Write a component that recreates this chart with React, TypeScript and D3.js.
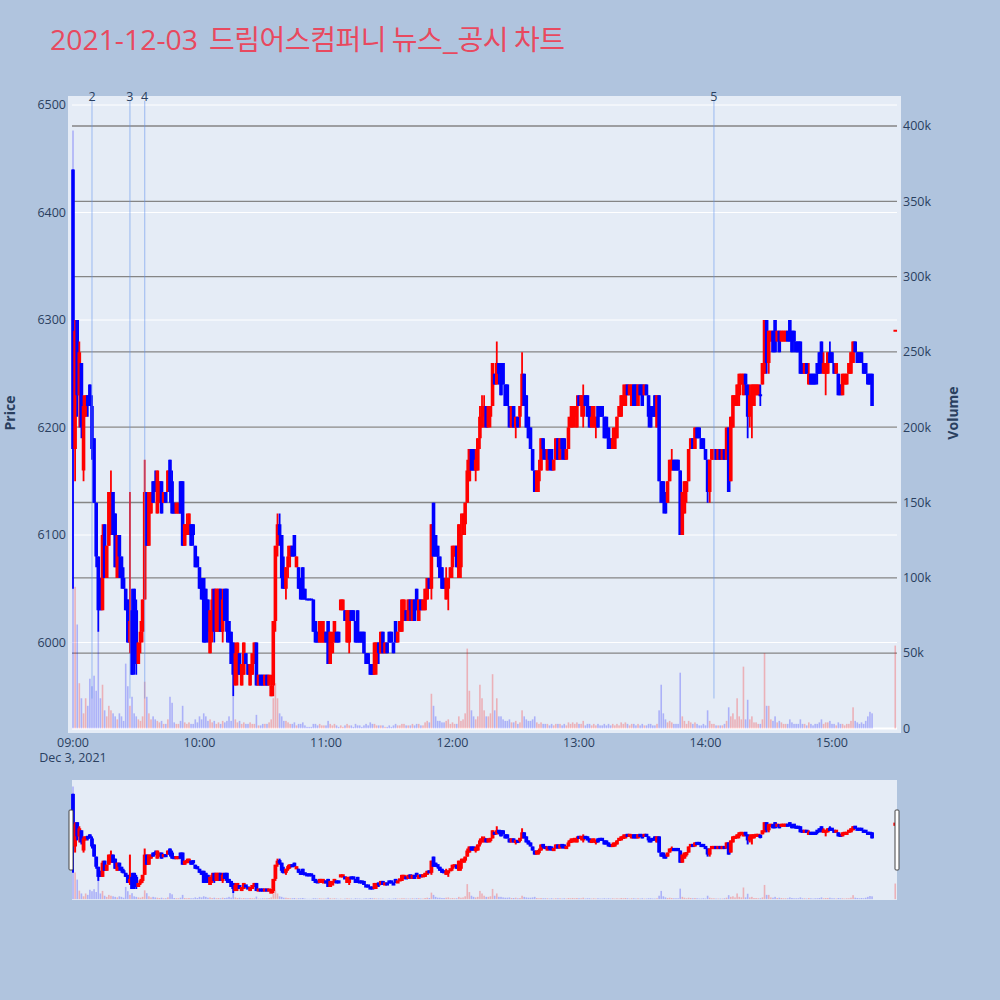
import { useEffect, useRef } from 'react';
import * as d3 from 'd3';

const chartDate = '2021-12-03';
const titleDate = '2021-12-03';
const titleText = '드림어스컴퍼니 뉴스_공시 차트';

// one candle per minute from 09:00 (continuous session), KRW
const sessionStart = '09:00';
const openPrices = [
  6440, 6180, 6300, 6230, 6260, 6160, 6210, 6230, 6240, 6220,
  6190, 6130, 6080, 6060, 6030, 6110, 6060, 6090, 6100, 6140,
  6120, 6060, 6100, 6080, 6060, 6050, 6040, 6000, 6030, 6050,
  6030, 5980, 6000, 6010, 6040, 6140, 6090, 6120, 6150, 6150,
  6120, 6130, 6150, 6130, 6140, 6140, 6170, 6150, 6130, 6120,
  6120, 6150, 6150, 6090, 6100, 6100, 6110, 6110, 6090, 6080,
  6070, 6060, 6060, 6050, 6040, 5990, 6010, 6050, 6010, 6010,
  6050, 6010, 6050, 6050, 6020, 6010, 6000, 5960, 5970, 5990,
  5960, 5970, 5990, 5980, 5960, 5970, 5980, 6000, 5960, 5970,
  5970, 5960, 5970, 5960, 5950, 5960, 6020, 6090, 6110, 6100,
  6060, 6050, 6070, 6080, 6090, 6100, 6070, 6070, 6060, 6070,
  6050, 6040, 6040, 6040, 6040, 6020, 6010, 6000, 6000, 6000,
  6010, 6020, 5980, 5990, 6000, 6010, 6010, 6030, 6030, 6030,
  6000, 6000, 6030, 6030, 6020, 6030, 6010, 6010, 6010, 5990,
  5990, 5980, 5980, 5970, 5980, 6000, 5990, 6010, 5990, 6000,
  6010, 6010, 6000, 6020, 6000, 6010, 6010, 6020, 6030, 6020,
  6040, 6020, 6040, 6050, 6020, 6040, 6030, 6030, 6040, 6060,
  6050, 6130, 6100, 6090, 6080, 6070, 6060, 6040, 6050, 6060,
  6070, 6080, 6090, 6060, 6070, 6100, 6110, 6130, 6150, 6180,
  6180, 6160, 6160, 6190, 6200, 6210, 6220, 6200, 6210, 6220,
  6250, 6240, 6260, 6260, 6260, 6240, 6240, 6220, 6200, 6220,
  6200, 6210, 6210, 6220, 6250, 6230, 6210, 6200, 6180, 6160,
  6140, 6150, 6160, 6190, 6180, 6160, 6180, 6180, 6160, 6170,
  6190, 6170, 6190, 6190, 6170, 6180, 6200, 6200, 6210, 6200,
  6230, 6220, 6210, 6230, 6230, 6220, 6200, 6200, 6200, 6220,
  6220, 6220, 6210, 6210, 6200, 6190, 6180, 6180, 6190, 6210,
  6210, 6220, 6220, 6240, 6230, 6220, 6240, 6240, 6220, 6240,
  6240, 6230, 6240, 6230, 6220, 6220, 6230, 6200, 6230, 6150,
  6150, 6140, 6130, 6150, 6160, 6170, 6170, 6170, 6160, 6100,
  6120, 6140, 6150, 6180, 6190, 6180, 6200, 6200, 6190, 6190,
  6180, 6170, 6140, 6170, 6170, 6180, 6170, 6180, 6170, 6180,
  6170, 6200, 6150, 6200, 6220, 6220, 6230, 6240, 6230, 6250,
  6240, 6210, 6220, 6220, 6230, 6230, 6230, 6240, 6250, 6300,
  6260, 6280, 6290, 6300, 6280, 6290, 6280, 6280, 6280, 6290,
  6300, 6290, 6290, 6280, 6280, 6280, 6260, 6250, 6260, 6240,
  6250, 6250, 6250, 6260, 6270, 6280, 6250, 6250, 6250, 6270,
  6270, 6260, 6250, 6250, 6240, 6230, 6240, 6240, 6250, 6250,
  6260, 6280, 6270, 6270, 6270, 6260, 6260, 6250, 6250, 6250,
];
const highPrices = [
  6440, 6300, 6300, 6280, 6260, 6230, 6230, 6230, 6240, 6230,
  6190, 6130, 6080, 6060, 6110, 6110, 6090, 6140, 6160, 6140,
  6120, 6100, 6100, 6080, 6070, 6050, 6040, 6140, 6050, 6050,
  6040, 6000, 6020, 6040, 6170, 6140, 6140, 6140, 6150, 6160,
  6160, 6150, 6150, 6140, 6140, 6160, 6170, 6160, 6130, 6130,
  6130, 6150, 6150, 6110, 6120, 6120, 6110, 6110, 6090, 6080,
  6070, 6060, 6060, 6050, 6040, 6030, 6050, 6050, 6050, 6050,
  6050, 6050, 6050, 6050, 6020, 6010, 6000, 6000, 6000, 5990,
  5980, 6000, 5990, 5980, 5980, 5990, 6000, 6000, 5970, 5970,
  5970, 5970, 5970, 5970, 5970, 6020, 6090, 6120, 6120, 6100,
  6080, 6070, 6090, 6090, 6090, 6100, 6080, 6070, 6060, 6070,
  6050, 6040, 6040, 6040, 6040, 6020, 6010, 6020, 6020, 6020,
  6010, 6020, 6010, 6010, 6020, 6010, 6010, 6040, 6040, 6030,
  6030, 6030, 6030, 6030, 6020, 6030, 6010, 6010, 6010, 5990,
  5990, 5980, 5980, 6000, 6000, 6000, 6010, 6010, 6000, 6000,
  6010, 6010, 6000, 6020, 6010, 6020, 6040, 6040, 6030, 6040,
  6040, 6040, 6040, 6050, 6040, 6040, 6040, 6050, 6060, 6060,
  6110, 6130, 6100, 6090, 6080, 6070, 6060, 6070, 6060, 6070,
  6090, 6090, 6090, 6110, 6120, 6120, 6130, 6170, 6180, 6180,
  6180, 6180, 6190, 6220, 6230, 6230, 6220, 6220, 6220, 6260,
  6250, 6280, 6260, 6260, 6260, 6240, 6240, 6220, 6220, 6220,
  6210, 6210, 6220, 6270, 6250, 6230, 6210, 6200, 6180, 6160,
  6160, 6170, 6190, 6190, 6180, 6180, 6180, 6180, 6170, 6190,
  6190, 6190, 6190, 6190, 6180, 6210, 6220, 6220, 6220, 6230,
  6230, 6230, 6240, 6230, 6230, 6220, 6220, 6220, 6210, 6220,
  6220, 6220, 6210, 6210, 6200, 6190, 6200, 6200, 6210, 6220,
  6230, 6240, 6240, 6240, 6240, 6240, 6240, 6240, 6240, 6240,
  6240, 6240, 6240, 6230, 6220, 6220, 6230, 6230, 6230, 6150,
  6150, 6140, 6150, 6170, 6180, 6170, 6170, 6170, 6160, 6140,
  6150, 6150, 6180, 6190, 6190, 6200, 6200, 6200, 6190, 6190,
  6180, 6170, 6170, 6180, 6180, 6180, 6180, 6180, 6180, 6180,
  6200, 6200, 6210, 6230, 6230, 6240, 6250, 6250, 6250, 6250,
  6240, 6240, 6240, 6240, 6240, 6240, 6240, 6260, 6300, 6300,
  6290, 6290, 6290, 6300, 6290, 6290, 6290, 6290, 6290, 6290,
  6300, 6290, 6290, 6280, 6280, 6280, 6260, 6260, 6260, 6260,
  6250, 6250, 6250, 6260, 6270, 6280, 6270, 6260, 6270, 6280,
  6270, 6260, 6260, 6250, 6240, 6250, 6250, 6250, 6260, 6270,
  6280, 6280, 6270, 6270, 6270, 6260, 6260, 6250, 6250, 6250,
];
const lowPrices = [
  6050, 6150, 6210, 6200, 6190, 6150, 6210, 6210, 6220, 6170,
  6130, 6070, 6010, 6030, 6030, 6060, 6060, 6090, 6100, 6100,
  6070, 6060, 6060, 6050, 6050, 6030, 6000, 5990, 5970, 5970,
  5970, 5980, 5990, 6000, 6040, 6090, 6090, 6120, 6130, 6140,
  6120, 6130, 6120, 6130, 6130, 6140, 6130, 6120, 6120, 6120,
  6120, 6120, 6090, 6090, 6100, 6100, 6090, 6090, 6070, 6070,
  6050, 6040, 6000, 6000, 6000, 5990, 6000, 6000, 6010, 6010,
  6010, 6000, 6020, 6000, 6000, 5980, 5950, 5960, 5960, 5970,
  5960, 5970, 5980, 5970, 5960, 5970, 5980, 5960, 5960, 5960,
  5960, 5960, 5960, 5960, 5950, 5950, 6010, 6080, 6090, 6050,
  6050, 6040, 6060, 6070, 6080, 6080, 6070, 6050, 6040, 6040,
  6040, 6040, 6040, 6040, 6010, 6000, 6000, 6000, 6000, 6000,
  6000, 5980, 5980, 5990, 6000, 6000, 6000, 6030, 6030, 6020,
  6000, 5990, 6020, 6020, 6000, 6000, 6000, 6000, 5990, 5980,
  5980, 5970, 5970, 5970, 5970, 5980, 5990, 5990, 5990, 5990,
  6000, 6000, 5990, 6000, 6000, 6010, 6010, 6020, 6020, 6020,
  6020, 6020, 6020, 6030, 6020, 6030, 6030, 6030, 6040, 6050,
  6040, 6080, 6080, 6070, 6060, 6050, 6050, 6040, 6030, 6060,
  6060, 6080, 6070, 6060, 6060, 6100, 6100, 6130, 6150, 6160,
  6160, 6150, 6160, 6180, 6200, 6200, 6200, 6200, 6200, 6220,
  6240, 6240, 6240, 6230, 6240, 6220, 6220, 6200, 6200, 6200,
  6190, 6200, 6200, 6220, 6220, 6200, 6190, 6180, 6160, 6140,
  6140, 6140, 6160, 6170, 6170, 6160, 6160, 6160, 6160, 6170,
  6170, 6170, 6170, 6170, 6170, 6180, 6200, 6200, 6200, 6200,
  6220, 6210, 6200, 6220, 6210, 6200, 6200, 6200, 6190, 6200,
  6210, 6210, 6190, 6190, 6180, 6180, 6180, 6180, 6190, 6210,
  6210, 6220, 6220, 6230, 6230, 6220, 6220, 6220, 6220, 6230,
  6220, 6230, 6230, 6200, 6200, 6210, 6210, 6200, 6150, 6130,
  6120, 6120, 6130, 6150, 6160, 6160, 6160, 6160, 6100, 6100,
  6120, 6130, 6150, 6180, 6180, 6180, 6190, 6190, 6180, 6180,
  6170, 6130, 6130, 6170, 6170, 6170, 6170, 6170, 6170, 6170,
  6170, 6140, 6150, 6200, 6220, 6220, 6220, 6240, 6230, 6230,
  6190, 6200, 6190, 6220, 6230, 6230, 6220, 6240, 6250, 6250,
  6250, 6280, 6270, 6270, 6280, 6270, 6280, 6280, 6280, 6280,
  6280, 6270, 6270, 6270, 6270, 6250, 6250, 6250, 6250, 6240,
  6240, 6240, 6240, 6240, 6250, 6250, 6250, 6230, 6250, 6260,
  6260, 6250, 6250, 6230, 6230, 6230, 6240, 6240, 6250, 6250,
  6260, 6270, 6260, 6260, 6260, 6250, 6250, 6240, 6240, 6220,
];
const closePrices = [
  6180, 6290, 6230, 6270, 6200, 6220, 6230, 6220, 6220, 6180,
  6130, 6080, 6030, 6030, 6100, 6060, 6090, 6140, 6140, 6100,
  6070, 6100, 6080, 6060, 6050, 6030, 6000, 6020, 5970, 5980,
  5990, 6000, 6010, 6040, 6140, 6090, 6140, 6140, 6130, 6140,
  6160, 6150, 6120, 6140, 6130, 6160, 6140, 6120, 6120, 6130,
  6130, 6120, 6090, 6110, 6110, 6120, 6090, 6100, 6070, 6070,
  6050, 6040, 6000, 6000, 6010, 6030, 6040, 6010, 6050, 6050,
  6010, 6040, 6020, 6010, 6000, 5980, 5970, 5990, 6000, 5970,
  5980, 6000, 5980, 5970, 5980, 5990, 6000, 5960, 5970, 5960,
  5960, 5970, 5960, 5970, 5960, 6020, 6090, 6110, 6100, 6060,
  6050, 6070, 6080, 6090, 6080, 6080, 6080, 6050, 6040, 6040,
  6040, 6040, 6040, 6040, 6010, 6000, 6000, 6020, 6020, 6010,
  6000, 5980, 6010, 6000, 6020, 6000, 6000, 6040, 6040, 6020,
  6030, 6030, 6020, 6020, 6000, 6000, 6000, 6000, 5990, 5980,
  5980, 5970, 5970, 6000, 6000, 5990, 6010, 5990, 6000, 5990,
  6000, 6000, 5990, 6000, 6010, 6020, 6040, 6040, 6020, 6040,
  6030, 6040, 6020, 6030, 6040, 6030, 6040, 6050, 6060, 6050,
  6110, 6080, 6080, 6080, 6060, 6050, 6050, 6060, 6060, 6070,
  6090, 6090, 6070, 6110, 6100, 6120, 6130, 6160, 6180, 6160,
  6160, 6170, 6190, 6210, 6220, 6220, 6200, 6220, 6220, 6260,
  6240, 6260, 6250, 6230, 6240, 6220, 6220, 6200, 6220, 6200,
  6210, 6200, 6220, 6250, 6220, 6200, 6190, 6180, 6160, 6140,
  6160, 6160, 6190, 6180, 6170, 6180, 6170, 6160, 6170, 6190,
  6170, 6190, 6180, 6170, 6180, 6200, 6210, 6220, 6220, 6220,
  6220, 6230, 6230, 6220, 6210, 6200, 6210, 6220, 6210, 6200,
  6210, 6210, 6190, 6190, 6180, 6180, 6190, 6200, 6210, 6220,
  6230, 6230, 6240, 6230, 6240, 6240, 6220, 6220, 6240, 6230,
  6220, 6240, 6230, 6210, 6200, 6210, 6210, 6230, 6150, 6130,
  6130, 6120, 6150, 6170, 6170, 6160, 6160, 6160, 6100, 6140,
  6150, 6150, 6180, 6190, 6180, 6200, 6190, 6190, 6180, 6180,
  6170, 6140, 6170, 6180, 6180, 6170, 6180, 6170, 6180, 6170,
  6200, 6140, 6210, 6230, 6230, 6240, 6250, 6250, 6250, 6240,
  6210, 6230, 6240, 6240, 6240, 6240, 6230, 6260, 6300, 6260,
  6290, 6290, 6270, 6270, 6290, 6270, 6290, 6290, 6290, 6280,
  6280, 6270, 6280, 6270, 6270, 6250, 6250, 6260, 6250, 6250,
  6240, 6240, 6240, 6250, 6250, 6260, 6260, 6260, 6270, 6260,
  6260, 6250, 6260, 6230, 6230, 6250, 6250, 6250, 6260, 6270,
  6280, 6270, 6260, 6260, 6260, 6250, 6250, 6240, 6240, 6220,
];
// thousands of shares per minute
const volumes = [
  397, 94, 69, 30, 20, 10, 20, 15, 33, 28,
  35, 25, 65, 20, 29, 12, 8, 15, 12, 10,
  8, 6, 10, 8, 5, 43, 28, 15, 21, 10,
  8, 6, 5, 8, 31, 21, 10, 6, 8, 6,
  5, 4, 5, 3, 3, 6, 21, 17, 4, 3,
  3, 5, 15, 4, 3, 4, 3, 3, 6, 4,
  8, 6, 10, 8, 5, 6, 4, 5, 3, 4,
  3, 5, 4, 5, 8, 5, 21, 6, 4, 5,
  3, 4, 3, 3, 4, 3, 3, 9, 2, 2,
  3, 3, 3, 4, 6, 20, 30, 20, 10, 8,
  5, 5, 4, 3, 3, 4, 2, 3, 3, 4,
  2, 1, 1, 1, 3, 3, 2, 3, 2, 2,
  2, 5, 3, 2, 3, 2, 1, 2, 1, 2,
  3, 2, 2, 1, 3, 2, 2, 1, 2, 3,
  2, 4, 3, 3, 2, 2, 2, 2, 1, 1,
  2, 1, 2, 3, 2, 2, 3, 3, 2, 2,
  2, 3, 2, 3, 3, 2, 2, 4, 5, 4,
  23, 15, 8, 5, 5, 4, 4, 5, 6, 3,
  4, 3, 3, 8, 5, 6, 10, 53, 25, 12,
  8, 6, 8, 29, 20, 12, 8, 8, 10, 36,
  12, 20, 8, 8, 6, 5, 5, 6, 4, 4,
  5, 3, 4, 12, 8, 6, 5, 5, 6, 8,
  4, 3, 4, 3, 3, 3, 2, 3, 2, 3,
  3, 3, 2, 3, 2, 4, 3, 4, 3, 4,
  3, 3, 5, 2, 3, 3, 2, 3, 2, 3,
  2, 2, 3, 2, 3, 2, 3, 2, 3, 2,
  4, 3, 4, 3, 2, 3, 3, 2, 3, 2,
  3, 2, 2, 3, 3, 2, 2, 3, 12, 29,
  10, 6, 4, 5, 4, 3, 3, 3, 37, 8,
  5, 3, 5, 4, 3, 4, 3, 2, 2, 3,
  2, 12, 5, 3, 3, 2, 2, 2, 2, 3,
  5, 14, 8, 10, 6, 20, 8, 6, 41, 6,
  19, 6, 8, 4, 4, 3, 3, 6, 50, 15,
  15, 6, 5, 8, 4, 5, 4, 3, 3, 3,
  6, 4, 3, 3, 3, 6, 3, 3, 2, 4,
  3, 2, 3, 3, 4, 6, 3, 4, 4, 5,
  3, 3, 2, 4, 3, 3, 2, 3, 3, 5,
  14, 5, 4, 3, 4, 3, 5, 8, 11, 10,
];

// 15:30 closing single-price auction
const auctionTime = '15:30';
const auctionPrice = 6290;
const auctionVolume = 55;

// news / disclosure markers
const newsTimes = ['09:09', '09:27', '09:34', '14:04'];
const newsLabels = ['2', '3', '4', '5'];

const priceTicks = [6000, 6100, 6200, 6300, 6400, 6500];
const volumeTicks = [0, 50, 100, 150, 200, 250, 300, 350, 400];
const hourTicks = ['09:00', '10:00', '11:00', '12:00', '13:00', '14:00', '15:00'];

const FONT = '"Open Sans", verdana, arial, sans-serif';
const TEXT = '#2a3f5f';
const UP = '#ff0000';
const DOWN = '#0000ff';

const PLOT = { left: 68, right: 901, top: 96, bottom: 733 };
const GRID = { left: 72, right: 897 };
const SLIDER = { left: 72, right: 897, top: 780, bottom: 900 };

const parseTime = d3.timeParse('%Y-%m-%d %H:%M');
const at = (hm: string) => parseTime(`${chartDate} ${hm}`) as Date;

type Candle = { time: Date; o: number; h: number; l: number; c: number; v: number; up: boolean };

export default function App() {
  const svgRef = useRef<SVGSVGElement>(null);

  useEffect(() => {
    const svg = d3.select(svgRef.current);
    svg.selectAll('*').remove();

    const x = d3.scaleTime().domain([at('09:00'), at('15:00')]).range([73, 832]);
    const y = d3.scaleLinear().domain([6000, 6500]).range([642.5, 105]);
    const yv = d3.scaleLinear().domain([0, 400]).range([728.4, 126]);
    const toSlider = (py: number) =>
      SLIDER.top + ((py - PLOT.top) * (SLIDER.bottom - SLIDER.top)) / (PLOT.bottom - PLOT.top);

    const start = at(sessionStart);
    const candles: Candle[] = openPrices.map((o, i) => {
      const c = closePrices[i];
      const prev = i > 0 ? closePrices[i - 1] : o;
      return {
        time: d3.timeMinute.offset(start, i),
        o,
        h: highPrices[i],
        l: lowPrices[i],
        c,
        v: volumes[i],
        up: c > o || (c === o && c > prev),
      };
    });
    candles.push({
      time: at(auctionTime),
      o: auctionPrice,
      h: auctionPrice,
      l: auctionPrice,
      c: auctionPrice,
      v: auctionVolume,
      up: true,
    });

    // page background
    svg.append('rect').attr('width', 1000).attr('height', 1000).attr('fill', '#b0c4de');

    // title
    svg
      .append('text')
      .attr('x', 50)
      .attr('y', 50)
      .attr('font-size', 28)
      .attr('fill', '#e8495f')
      .attr('textLength', 148)
      .attr('lengthAdjust', 'spacingAndGlyphs')
      .text(titleDate);
    svg
      .append('text')
      .attr('x', 209)
      .attr('y', 50)
      .attr('font-size', 28)
      .attr('fill', '#e8495f')
      .attr('font-family', '"Noto Sans CJK KR", "Open Sans", sans-serif')
      .attr('textLength', 356)
      .attr('lengthAdjust', 'spacing')
      .text(titleText);

    // plot background
    svg
      .append('rect')
      .attr('x', PLOT.left)
      .attr('y', PLOT.top)
      .attr('width', PLOT.right - PLOT.left)
      .attr('height', PLOT.bottom - PLOT.top)
      .attr('fill', '#e5ecf6');

    // price grid
    priceTicks.forEach((t) => {
      svg
        .append('line')
        .attr('x1', GRID.left)
        .attr('x2', GRID.right)
        .attr('y1', y(t))
        .attr('y2', y(t))
        .attr('stroke', '#fff')
        .attr('stroke-width', 1);
      svg
        .append('text')
        .attr('x', 66)
        .attr('y', y(t))
        .attr('dy', '0.35em')
        .attr('text-anchor', 'end')
        .attr('font-size', 12.5)
        .attr('fill', TEXT)
        .text(t);
    });

    // volume grid
    volumeTicks.forEach((t) => {
      svg
        .append('line')
        .attr('x1', GRID.left)
        .attr('x2', GRID.right)
        .attr('y1', yv(t))
        .attr('y2', yv(t))
        .attr('stroke', t === 0 ? '#fff' : '#858585')
        .attr('stroke-width', t === 0 ? 2 : 1.3);
      svg
        .append('text')
        .attr('x', 903)
        .attr('y', yv(t))
        .attr('dy', '0.35em')
        .attr('font-size', 12.5)
        .attr('fill', TEXT)
        .text(t === 0 ? '0' : `${t}k`);
    });

    // x ticks
    hourTicks.forEach((h) => {
      svg
        .append('text')
        .attr('x', x(at(h)))
        .attr('y', 747)
        .attr('text-anchor', 'middle')
        .attr('font-size', 12.5)
        .attr('fill', TEXT)
        .text(d3.timeFormat('%H:%M')(at(h)));
    });
    svg
      .append('text')
      .attr('x', x(at('09:00')))
      .attr('y', 762)
      .attr('text-anchor', 'middle')
      .attr('font-size', 12.5)
      .attr('fill', TEXT)
      .text(d3.timeFormat('%b %-d, %Y')(at('09:00')));

    // axis titles
    svg
      .append('text')
      .attr('transform', 'translate(15,413) rotate(-90)')
      .attr('text-anchor', 'middle')
      .attr('font-size', 14)
      .attr('font-weight', 'bold')
      .attr('fill', TEXT)
      .text('Price');
    svg
      .append('text')
      .attr('transform', 'translate(958,413) rotate(-90)')
      .attr('text-anchor', 'middle')
      .attr('font-size', 14)
      .attr('font-weight', 'bold')
      .attr('fill', TEXT)
      .text('Volume');

    function drawVolume(g: d3.Selection<SVGGElement, unknown, null, undefined>, map: (py: number) => number) {
      g.selectAll('rect.vol')
        .data(candles)
        .join('rect')
        .attr('class', 'vol')
        .attr('x', (d) => x(d.time) - 0.8)
        .attr('width', 1.6)
        .attr('y', (d) => map(yv(d.v)))
        .attr('height', (d) => Math.max(0, map(yv(0)) - map(yv(d.v))))
        .attr('fill', (d) => (d.up ? UP : DOWN))
        .attr('fill-opacity', 0.25);
    }

    function drawCandles(
      g: d3.Selection<SVGGElement, unknown, null, undefined>,
      map: (py: number) => number,
      bodyW: number,
      wickW: number,
      minH: number,
    ) {
      const k = g.selectAll('g.c').data(candles).join('g').attr('class', 'c');
      k.append('line')
        .attr('x1', (d) => x(d.time))
        .attr('x2', (d) => x(d.time))
        .attr('y1', (d) => map(y(d.h)))
        .attr('y2', (d) => map(y(d.l)))
        .attr('stroke', (d) => (d.up ? UP : DOWN))
        .attr('stroke-width', wickW);
      k.append('rect')
        .attr('x', (d) => x(d.time) - bodyW / 2)
        .attr('width', bodyW)
        .attr('y', (d) => {
          const top = map(y(Math.max(d.o, d.c)));
          const hgt = map(y(Math.min(d.o, d.c))) - top;
          return hgt < minH ? top - (minH - hgt) / 2 : top;
        })
        .attr('height', (d) => Math.max(minH, map(y(Math.min(d.o, d.c))) - map(y(Math.max(d.o, d.c)))))
        .attr('fill', (d) => (d.up ? UP : DOWN));
    }

    const main = svg.append('g');
    drawVolume(main, (p) => p);
    drawCandles(main, (p) => p, 3.6, 1.8, 2);

    // news markers
    newsTimes.forEach((t, i) => {
      const nx = x(at(t));
      svg
        .append('line')
        .attr('x1', nx)
        .attr('x2', nx)
        .attr('y1', y(5948))
        .attr('y2', y(6504))
        .attr('stroke', '#6495ed')
        .attr('stroke-opacity', 0.45)
        .attr('stroke-width', 1.3);
      svg
        .append('text')
        .attr('x', nx)
        .attr('y', 101)
        .attr('text-anchor', 'middle')
        .attr('font-size', 12.5)
        .attr('fill', TEXT)
        .text(newsLabels[i]);
    });

    // range slider
    svg
      .append('rect')
      .attr('x', SLIDER.left)
      .attr('y', SLIDER.top)
      .attr('width', SLIDER.right - SLIDER.left)
      .attr('height', SLIDER.bottom - SLIDER.top)
      .attr('fill', '#e5ecf6');
    const mini = svg.append('g');
    drawVolume(mini, toSlider);
    drawCandles(mini, toSlider, 3.8, 2, 3.2);
    [69, 895].forEach((hx) => {
      svg
        .append('rect')
        .attr('x', hx)
        .attr('y', 810)
        .attr('width', 4)
        .attr('height', 60)
        .attr('rx', 1)
        .attr('fill', '#fff')
        .attr('stroke', '#444')
        .attr('stroke-width', 1);
    });
  }, []);

  return (
    <svg
      ref={svgRef}
      width={1000}
      height={1000}
      style={{ position: 'absolute', left: 0, top: 0, fontFamily: FONT }}
    />
  );
}
